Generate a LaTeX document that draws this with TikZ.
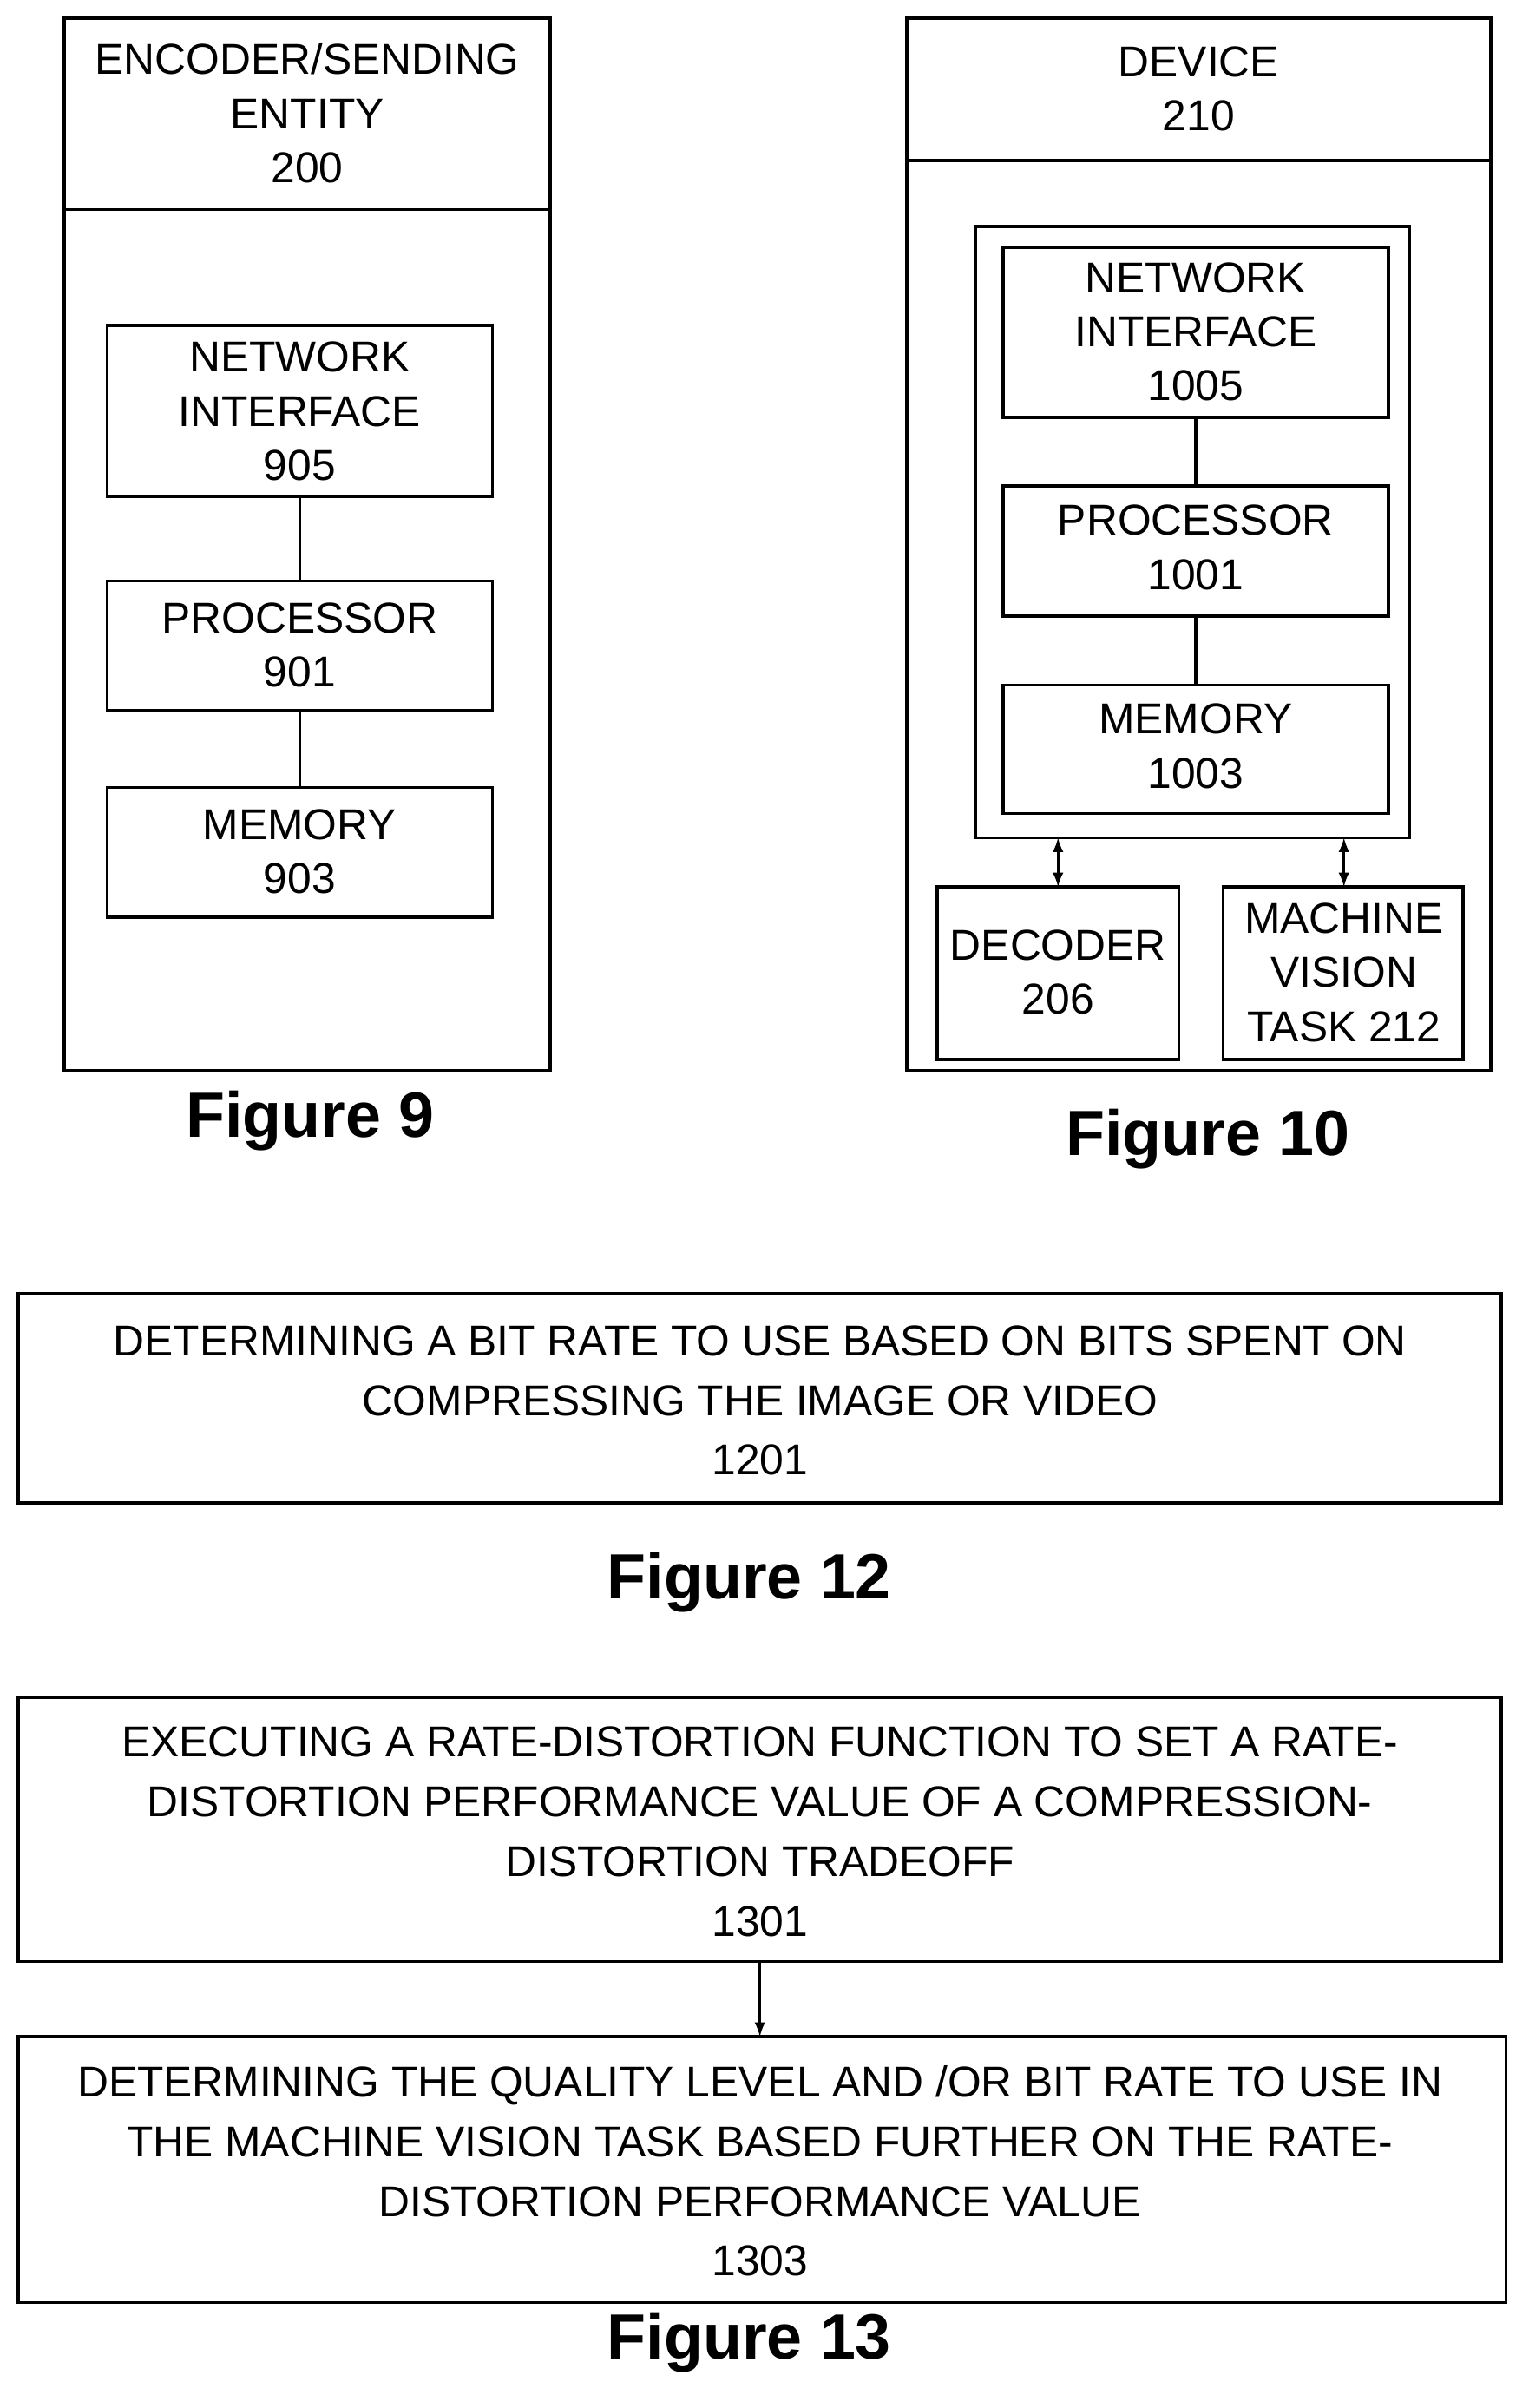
\documentclass[tikz,border=0pt]{standalone}
\usepackage{fontspec}
\setmainfont{Liberation Sans}
\begin{document}
\begin{tikzpicture}[x=0.0254cm,y=-0.0254cm,
  txt/.style={font=\fontsize{20.4}{25.6}\selectfont,align=center,inner sep=0},
  wtxt/.style={font=\fontsize{20.4}{28.2}\selectfont,align=center,inner sep=0},
  fig/.style={font=\fontsize{30.2}{34}\selectfont\bfseries,inner sep=0},
  ln/.style={line width=1.5pt},
  arr/.style={line width=1.3pt,-latex},
  darr/.style={line width=1.3pt,latex-latex}]
\useasboundingbox (0,0) rectangle (1000,1575);
% Figure 9
\draw[ln] (42,12) rectangle (360,700);
\draw[ln] (42,137) -- (360,137);
\node[txt] (h9) at (201,74) {ENCODER/SENDING\\ENTITY\\200};
\draw[ln] (70,213) rectangle (322,325); \node[txt] (ni9) at (196,269) {NETWORK\\INTERFACE\\905};
\draw[ln] (70,380) rectangle (322,465); \node[txt] (p9) at (196,422) {PROCESSOR\\901};
\draw[ln] (70,515) rectangle (322,600); \node[txt] (m9) at (196,557) {MEMORY\\903};
\coordinate (a1) at (196,325); \coordinate (a2) at (196,380);
\coordinate (a3) at (196,465); \coordinate (a4) at (196,515);
\draw[ln] (a1) -- (a2); \draw[ln] (a3) -- (a4);
\node[fig] (f9) at (203,733) {Figure 9};
% Figure 10
\draw[ln] (593,12) rectangle (975,700);
\draw[ln] (593,105) -- (975,105);
\node[txt] (h10) at (784,58) {DEVICE\\210};
\draw[ln] (638,148) rectangle (922,548);
\draw[ln] (656,162) rectangle (908,273); \node[txt] (ni10) at (782,217) {NETWORK\\INTERFACE\\1005};
\draw[ln] (656,318) rectangle (908,403); \node[txt] (p10) at (782,358) {PROCESSOR\\1001};
\draw[ln] (656,448) rectangle (908,532); \node[txt] (m10) at (782,488) {MEMORY\\1003};
\coordinate (b1) at (782,273); \coordinate (b2) at (782,318);
\coordinate (b3) at (782,403); \coordinate (b4) at (782,448);
\draw[ln] (b1) -- (b2); \draw[ln] (b3) -- (b4);
\draw[ln] (613,580) rectangle (771,693); \node[txt] (dec) at (692,636) {DECODER\\206};
\draw[ln] (800,580) rectangle (957,693); \node[txt] (mv) at (879,636) {MACHINE\\VISION\\TASK 212};
\coordinate (c1) at (692,548); \coordinate (c2) at (692,580);
\coordinate (c3) at (879,548); \coordinate (c4) at (879,580);
\draw[darr] (c1) -- (c2); \draw[darr] (c3) -- (c4);
\node[fig] (f10) at (790,745) {Figure 10};
% Figure 12
\draw[ln] (12,846) rectangle (982,983);
\node[wtxt] (t12) at (497,916) {DETERMINING A BIT RATE TO USE BASED ON BITS SPENT ON\\COMPRESSING THE IMAGE OR VIDEO\\1201};
\node[fig] (f12) at (490,1035) {Figure 12};
% Figure 13
\draw[ln] (12,1110) rectangle (982,1283);
\node[wtxt] (t1301) at (497,1198) {EXECUTING A RATE-DISTORTION FUNCTION TO SET A RATE-\\DISTORTION PERFORMANCE VALUE OF A COMPRESSION-\\DISTORTION TRADEOFF\\1301};
\draw[ln] (12,1332) rectangle (985,1506);
\node[wtxt] (t1303) at (497,1420) {DETERMINING THE QUALITY LEVEL AND /OR BIT RATE TO USE IN\\THE MACHINE VISION TASK BASED FURTHER ON THE RATE-\\DISTORTION PERFORMANCE VALUE\\1303};
\coordinate (d1) at (497,1283); \coordinate (d2) at (497,1332);
\draw[arr] (d1) -- (d2);
\node[fig] (f13) at (490,1532) {Figure 13};
\end{tikzpicture}
\end{document}
